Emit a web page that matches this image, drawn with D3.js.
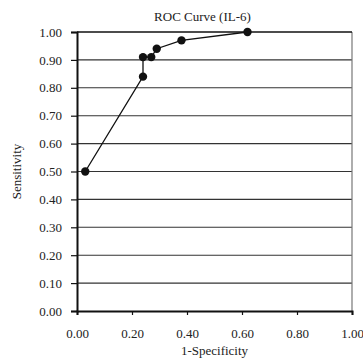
<!DOCTYPE html>
<html>
<head>
<meta charset="utf-8">
<script src="https://cdn.jsdelivr.net/npm/d3@7"></script>
<style>
  html, body { margin: 0; padding: 0; background: #fff; }
  svg { display: block; }
  text { font-family: "Liberation Serif", "Times New Roman", serif; fill: #222; }
</style>
</head>
<body>
<div id="chart"></div>
<script>
// ROC curve points for IL-6
const specComplement = [0.03, 0.24, 0.24, 0.27, 0.29, 0.38, 0.62];
const sensitivity    = [0.50, 0.84, 0.91, 0.91, 0.94, 0.97, 1.00];
const xTicks = [0, 0.2, 0.4, 0.6, 0.8, 1.0];
const yTicks = [0, 0.1, 0.2, 0.3, 0.4, 0.5, 0.6, 0.7, 0.8, 0.9, 1.0];
const title = "ROC Curve (IL-6)";
const xTitle = "1-Specificity";
const yTitle = "Sensitivity";

const W = 363, H = 359;
const m = { left: 77, right: 11, top: 32, bottom: 48 };
const pw = W - m.left - m.right, ph = H - m.top - m.bottom;

const svg = d3.select("#chart").append("svg").attr("width", W).attr("height", H);
const g = svg.append("g").attr("transform", `translate(${m.left},${m.top})`);

const x = d3.scaleLinear().domain([0, 1]).range([0, pw]);
const y = d3.scaleLinear().domain([0, 1]).range([ph, 0]);

// horizontal gridlines
g.append("g").selectAll("line").data(yTicks.filter(v => v > 0 && v < 1)).join("line")
  .attr("x1", 0).attr("x2", pw)
  .attr("y1", d => y(d)).attr("y2", d => y(d))
  .attr("stroke", "#333").attr("stroke-width", 1.1);

// right border
g.append("line").attr("x1", pw).attr("x2", pw).attr("y1", 0).attr("y2", ph)
  .attr("stroke", "#777").attr("stroke-width", 1.2);
// top border
g.append("line").attr("x1", 0).attr("x2", pw).attr("y1", y(1)).attr("y2", y(1))
  .attr("stroke", "#111").attr("stroke-width", 1.6);

// y axis
const yAxis = g.append("g")
  .call(d3.axisLeft(y).tickValues(yTicks).tickFormat(d3.format(".2f")).tickSize(6).tickPadding(9));
yAxis.select(".domain").attr("stroke", "#111").attr("stroke-width", 2);
yAxis.selectAll(".tick line").attr("stroke", "#111").attr("stroke-width", 1.2);
yAxis.selectAll("text").attr("font-size", 13).attr("fill", "#222")
  .style("font-family", '"Liberation Serif", serif');

// x axis
const xAxis = g.append("g").attr("transform", `translate(0,${ph})`)
  .call(d3.axisBottom(x).tickValues(xTicks).tickFormat(d3.format(".2f")).tickSize(4).tickPadding(14));
xAxis.select(".domain").attr("stroke", "#111").attr("stroke-width", 2);
xAxis.selectAll(".tick line").attr("stroke", "#111").attr("stroke-width", 1.2);
xAxis.selectAll("text").attr("font-size", 13).attr("fill", "#222")
  .style("font-family", '"Liberation Serif", serif');

// curve
const pts = specComplement.map((v, i) => [v, sensitivity[i]]);
g.append("path").datum(pts)
  .attr("fill", "none").attr("stroke", "#111").attr("stroke-width", 1.3)
  .attr("d", d3.line().x(d => x(d[0])).y(d => y(d[1])));
g.append("g").selectAll("circle").data(pts).join("circle")
  .attr("cx", d => x(d[0])).attr("cy", d => y(d[1])).attr("r", 4.2)
  .attr("fill", "#111");

// titles
svg.append("text").attr("x", m.left + pw / 2 - 12).attr("y", 21)
  .attr("text-anchor", "middle").attr("font-size", 13).text(title);
svg.append("text").attr("x", m.left + pw / 2).attr("y", 355)
  .attr("text-anchor", "middle").attr("font-size", 13).text(xTitle);
svg.append("text").attr("transform", `translate(21,${m.top + ph / 2}) rotate(-90)`)
  .attr("text-anchor", "middle").attr("font-size", 13).text(yTitle);
</script>
</body>
</html>
